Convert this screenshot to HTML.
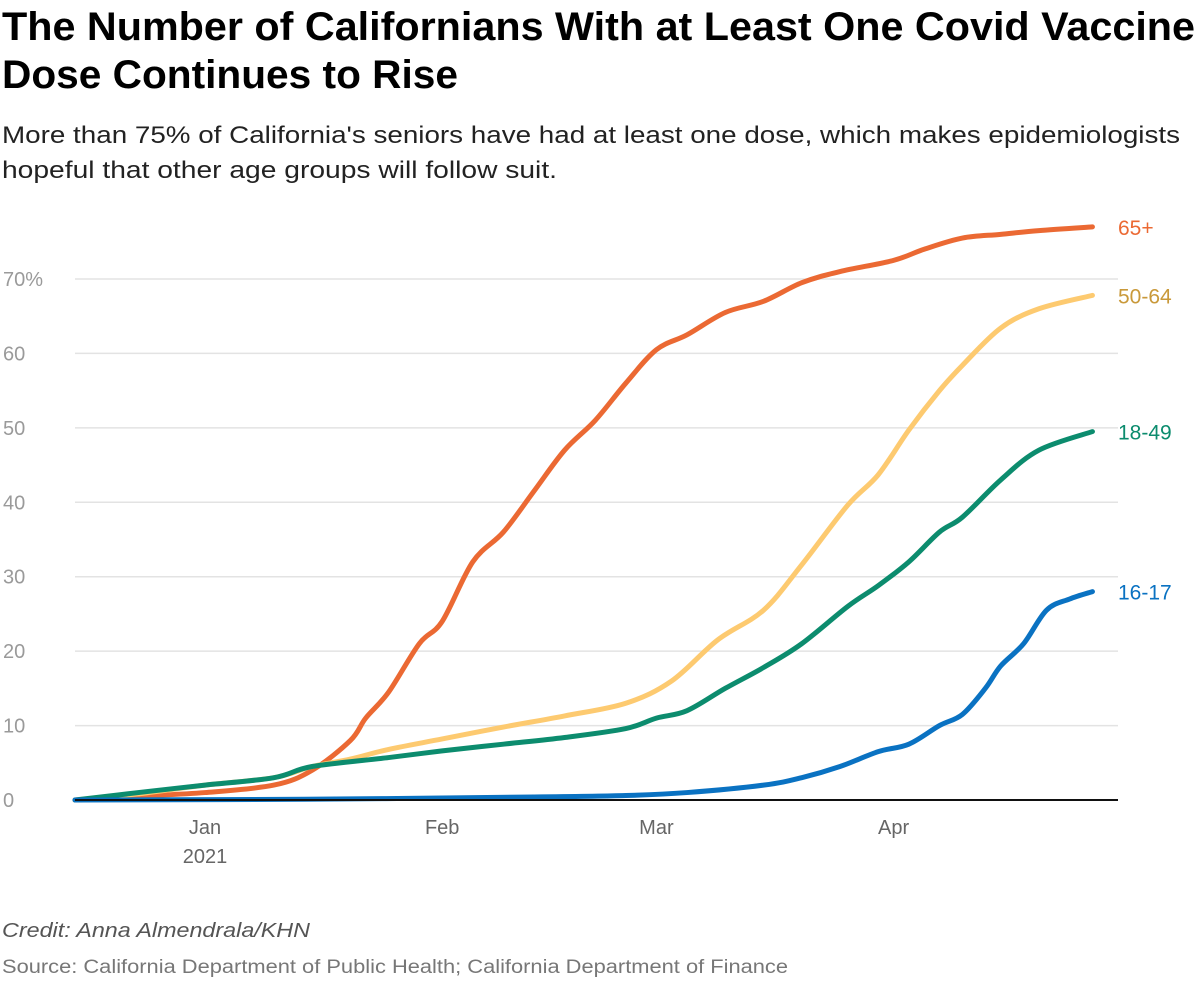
<!DOCTYPE html>
<html><head><meta charset="utf-8">
<style>
body{margin:0;width:1200px;height:990px;background:#fff;font-family:"Liberation Sans",sans-serif;overflow:hidden;position:relative}
svg{position:absolute;left:0;top:0}
</style></head><body>
<svg id="chart" width="1200" height="990">
<text x="2" y="40" font-size="40" font-weight="bold" fill="#000" textLength="1193" lengthAdjust="spacingAndGlyphs">The Number of Californians With at Least One Covid Vaccine</text>
<text x="2" y="88" font-size="40" font-weight="bold" fill="#000" textLength="456" lengthAdjust="spacingAndGlyphs">Dose Continues to Rise</text>
<text x="2" y="143" font-size="24" fill="#222" textLength="1178" lengthAdjust="spacingAndGlyphs">More than 75% of California's seniors have had at least one dose, which makes epidemiologists</text>
<text x="2" y="178" font-size="24" fill="#222" textLength="555" lengthAdjust="spacingAndGlyphs">hopeful that other age groups will follow suit.</text>
<text x="2" y="937" font-size="20" font-style="italic" fill="#555" textLength="308" lengthAdjust="spacingAndGlyphs">Credit: Anna Almendrala/KHN</text>
<text x="2" y="973" font-size="19" fill="#777" textLength="786" lengthAdjust="spacingAndGlyphs">Source: California Department of Public Health; California Department of Finance</text>
</svg>
<script>
// day index: 0 = Dec 15, 2020
const yTicks=[0,10,20,30,40,50,60,70];
const xTickDays=[17,48,76,107];
const xTickLabels=["Jan","Feb","Mar","Apr"];
const days65=[0,8,17,26,31,36,38,41,45,48,52,56,60,64,68,72,76,80,85,90,95,100,107,111,116,121,126,133];
const vals65=[0,0.5,1,2,4,8,11,14.5,21,24,32,36,41.5,47,51,56,60.5,62.5,65.5,67,69.5,71,72.5,74,75.5,76,76.5,77];
const days5064=[0,8,17,26,31,36,41,48,56,64,72,78,84,90,95,101,105,109,113,116,121,126,133];
const vals5064=[0,0.8,2,3,4.5,5.5,6.8,8.2,9.8,11.3,13,16,21.5,25.5,31.6,39.6,43.7,49.7,55,58.4,63.4,66,67.8];
const days1849=[0,10,17,26,31,41,48,56,64,72,76,80,85,90,95,101,105,109,113,116,121,126,133];
const vals1849=[0,1.2,2,3,4.5,5.7,6.6,7.5,8.4,9.6,11,12,15,17.8,21,26,28.8,32,36,38,43,47,49.5];
const days1617=[0,30,60,72,80,90,95,100,105,109,113,116,119,121,124,127,130,133];
const vals1617=[0,0.1,0.4,0.6,1,2,3,4.5,6.5,7.5,10,11.5,15,18,21,25.5,27,28];
const seriesNames=["65+","50-64","18-49","16-17"];
const colors=["#eb6933","#fdca70","#0c8c6e","#0a72c2"];
const labelColors=["#eb6933","#c9993a","#0c8c6e","#0a72c2"];

const X=d=>75+d*7.65;
const Y=v=>800-v*7.443;
const NS="http://www.w3.org/2000/svg";
const svg=document.getElementById('chart');
function mk(t,a){const e=document.createElementNS(NS,t);for(const k in a)e.setAttribute(k,a[k]);svg.appendChild(e);return e;}
yTicks.forEach(v=>{
  if(v>0){const l=mk('line',{x1:75,x2:1118,y1:Y(v),y2:Y(v),stroke:'#e3e3e3','stroke-width':1.5});
  
  }
  const t=mk('text',{x:3,y:Y(v)+7,'font-size':20,fill:'#9a9a9a'});
  t.textContent=v===70?'70%':String(v);
  
  
});
xTickDays.forEach((d,i)=>{
  const t=mk('text',{x:X(d),y:834,'font-size':20,fill:'#666','text-anchor':'middle'});
  t.textContent=xTickLabels[i];
  
  
});
const yr=mk('text',{x:X(17),y:863,'font-size':20,fill:'#666','text-anchor':'middle'});
yr.textContent='2021';


const series=[[days65,vals65],[days5064,vals5064],[days1849,vals1849],[days1617,vals1617]];
series.forEach((s,i)=>{
  const pts=s[0].map((d,j)=>[X(d),Y(s[1][j])]);
  let p='M'+pts[0][0]+','+pts[0][1];
  for(let j=1;j<pts.length;j++){
    const p0=pts[j-2]||pts[j-1],p1=pts[j-1],p2=pts[j],p3=pts[j+1]||pts[j];
    const c1=[p1[0]+(p2[0]-p0[0])/6,p1[1]+(p2[1]-p0[1])/6],c2=[p2[0]-(p3[0]-p1[0])/6,p2[1]-(p3[1]-p1[1])/6];
    p+=`C${c1[0]},${c1[1]} ${c2[0]},${c2[1]} ${p2[0]},${p2[1]}`;
  }
  const path=mk('path',{d:p,fill:'none',stroke:colors[i],'stroke-width':5,'stroke-linecap':'round','stroke-linejoin':'round'});
  
  
  const last=pts[pts.length-1];
  const t=mk('text',{x:1118,y:last[1]+8,'font-size':21,fill:labelColors[i]});
  t.textContent=seriesNames[i];
  
  
});
const base=mk('line',{x1:75,x2:1118,y1:Y(0),y2:Y(0),stroke:'#111','stroke-width':2});


</script>
</body></html>
